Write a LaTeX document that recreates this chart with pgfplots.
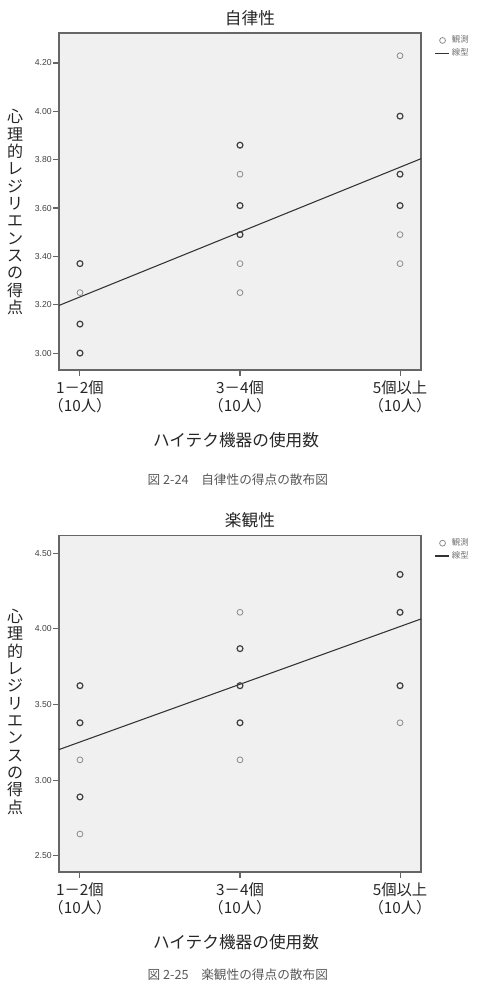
\documentclass[border=0pt]{standalone}
\usepackage{pgfplots}
\pgfplotsset{compat=1.18}
\usepackage{fontspec}
\setmainfont{Liberation Sans}
\newfontfamily\cjk{Noto Sans CJK JP}
\definecolor{plotbg}{HTML}{F0F0F0}
\pgfplotsset{
  resil/.style={
    scale only axis,
    clip=false,
    width=271.5pt,
    xmin=0.869, xmax=3.131,
    xtick={1,2,3},
    xticklabels={{1－2個\\（10人）},{3－4個\\（10人）},{5個以上\\（10人）}},
    xticklabel style={align=center, font=\cjk\fontsize{11.5}{13.5}\selectfont, text=black!85},
    yticklabel style={font=\fontsize{6.5}{7}\selectfont, text=black!75, inner sep=0.8pt,
      /pgf/number format/.cd, fixed, fixed zerofill, precision=2, assume math mode=true},
    tick align=outside,
    major tick length=4.5pt,
    xtick pos=bottom, ytick pos=left,
    major tick style={draw=black!60, line width=0.8pt},
    axis line style={draw=black!60, line width=1.1pt},
    axis background/.style={fill=plotbg},
    ylabel={心\\理\\的\\レ\\ジ\\リ\\エ\\ン\\ス\\の\\得\\点},
    ylabel style={rotate=-90, align=center, anchor=center, font=\cjk\fontsize{12}{13}\selectfont, text=black!85},
    xlabel={ハイテク機器の使用数},
    xlabel style={at={(rel axis cs:0.489,-0.2077)}, anchor=center, font=\cjk\fontsize{12.5}{13}\selectfont, text=black!85},
    every axis title/.style={anchor=center, font=\cjk\fontsize{12.5}{13}\selectfont, text=black!85},
    legend style={at={(1.036,1.0)}, anchor=north west, draw=none, fill=none,
      font=\cjk\fontsize{6.3}{6.5}\selectfont, text=black!55, inner sep=0pt, row sep=-1.2pt},
    legend cell align=left,
    lightpt/.style={only marks, mark=o, mark size=2.2pt, mark options={draw=black!45, line width=0.6pt},
      legend image code/.code={\draw[##1] plot coordinates {(0.2cm,0cm)};}},
    heavypt/.style={only marks, mark=o, mark size=2.2pt, mark options={draw=black!75, line width=0.9pt}, forget plot},
    fitline/.style={draw=black!80, line width=0.8pt, mark=none,
      legend image code/.code={\draw[##1, line width=1pt] (0cm,0cm) -- (0.36cm,0cm);}},
  }
}
\begin{document}
\begin{tikzpicture}
\path[use as bounding box, clip] (0pt,0pt) rectangle (360pt,737.25pt);
\begin{axis}[resil,
  at={(44.25pt,459.75pt)}, anchor=south west,
  height=252.75pt,
  ymin=2.93, ymax=4.324,
  ytick={3.00,3.20,3.40,3.60,3.80,4.00,4.20},
  ylabel style={at={(rel axis cs:-0.1215,0.469)}},
  title={自律性},
  title style={at={(rel axis cs:0.5276,1.043)}},
]
\addplot[lightpt] coordinates {(1,3.25) (2,3.74) (2,3.37) (2,3.25) (3,4.23) (3,3.49) (3,3.37)};
\addlegendentry{観測}
\addplot[heavypt] coordinates {(1,3.37) (1,3.12) (1,3.00) (2,3.86) (2,3.61) (2,3.49) (3,3.98) (3,3.74) (3,3.61)};
\addplot[fitline] coordinates {(0.869,3.197) (3.131,3.804)};
\addlegendentry{線型}
\node[font=\cjk\fontsize{9.5}{10}\selectfont, text=black!65] at (rel axis cs:0.494,-0.326) {図 2-24　自律性の得点の散布図};
\end{axis}
\begin{axis}[resil,
  at={(44.25pt,83.25pt)}, anchor=south west,
  height=252.2pt,
  ymin=2.394, ymax=4.616,
  ytick={2.5,3.0,3.5,4.0,4.5},
  ylabel style={at={(rel axis cs:-0.1215,0.476)}},
  title={楽観性},
  title style={at={(rel axis cs:0.5276,1.0476)}},
]
\addplot[lightpt] coordinates {(1,3.135) (1,2.645) (2,4.11) (2,3.135) (3,3.38)};
\addlegendentry{観測}
\addplot[heavypt] coordinates {(1,3.625) (1,3.38) (1,2.89) (2,3.87) (2,3.625) (2,3.38) (3,4.36) (3,4.11) (3,3.625)};
\addplot[fitline] coordinates {(0.869,3.203) (3.131,4.066)};
\addlegendentry{線型}
\node[font=\cjk\fontsize{9.5}{10}\selectfont, text=black!65] at (rel axis cs:0.494,-0.306) {図 2-25　楽観性の得点の散布図};
\end{axis}
\end{tikzpicture}
\end{document}
